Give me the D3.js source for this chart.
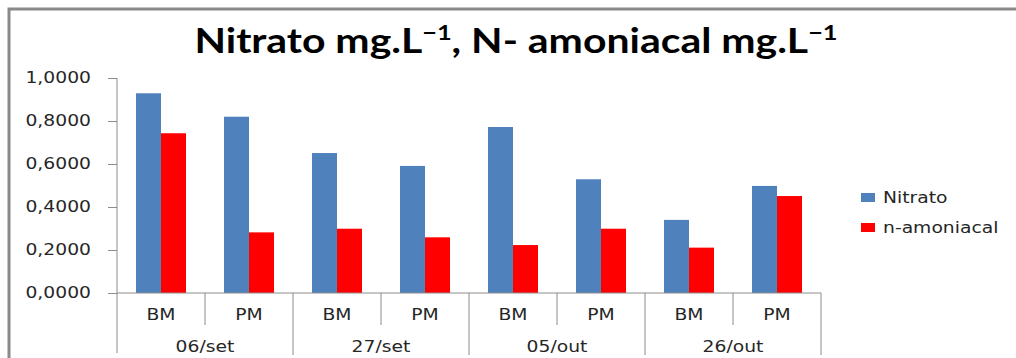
<!DOCTYPE html>
<html>
<head>
<meta charset="utf-8">
<title>Nitrato / N-amoniacal</title>
<style>
    body { margin: 0; padding: 0; background: white; }
    text { font-family: "DejaVu Sans", sans-serif; fill: #262626; }
    .title { font-family: Lato, "Open Sans", sans-serif; font-weight: bold; fill: #000; }
    .axis path, .axis line { stroke: #8c8c8c; }
</style>
</head>
<body>
<div id="chart"></div>
<script src="https://cdn.jsdelivr.net/npm/d3@7/dist/d3.min.js"></script>
<script>
    // data
    let dates = ["06/set", "27/set", "05/out", "26/out"]
    let periods = ["BM", "PM"]
    let series = ["Nitrato", "n-amoniacal"]
    let nitrato = [0.929, 0.820, 0.651, 0.591, 0.772, 0.529, 0.340, 0.498]
    let amoniacal = [0.743, 0.282, 0.299, 0.259, 0.223, 0.299, 0.211, 0.451]
    let yTicks = [0, 0.2, 0.4, 0.6, 0.8, 1.0]
    let colors = ["#4f81bd", "#ff0000"]

    let width = 1016, height = 358
    let sx = 1.25   // the reference text is stretched sideways

    let svg = d3.select("#chart").append("svg")
        .attr("width", width)
        .attr("height", height)

    // frame
    svg.append("rect")
        .attr("x", 9).attr("y", 9)
        .attr("width", 1100).attr("height", 400)
        .attr("fill", "none")
        .attr("stroke", "#8a8a8a")
        .attr("stroke-width", 3)

    // title
    let title = svg.append("text")
        .attr("class", "title")
        .attr("x", 516).attr("y", 53)
        .attr("text-anchor", "middle")
        .attr("font-size", 34)
        .attr("textLength", 643)
        .attr("lengthAdjust", "spacingAndGlyphs")
    title.append("tspan").text("Nitrato mg.L")
    title.append("tspan").attr("font-size", 21).attr("dy", -13).text("−1")
    title.append("tspan").attr("dy", 13).text(", N- amoniacal mg.L")
    title.append("tspan").attr("font-size", 21).attr("dy", -13).text("−1")

    let plotLeft = 117, plotRight = 821, plotTop = 78, plotBottom = 293

    // one slot per date/period pair
    let keys = []
    dates.forEach(function(d){
        periods.forEach(function(p){ keys.push(d + "|" + p) })
    })

    let x = d3.scaleBand().domain(keys).range([plotLeft, plotRight]).padding(0)
    let x1 = d3.scaleBand().domain(series).range([0, x.bandwidth()]).paddingInner(0).paddingOuter(0.76)
    let y = d3.scaleLinear().domain([0, 1]).range([plotBottom, plotTop])

    let locale = d3.formatLocale({decimal: ",", thousands: ".", grouping: [3], currency: ["", ""]})
    let fmt = locale.format(".4f")

    let yAxis = svg.append("g")
        .attr("class", "axis")
        .attr("transform", "translate(" + plotLeft + ",0)")
        .call(d3.axisLeft(y).tickValues(yTicks).tickFormat(fmt).tickSize(9).tickSizeOuter(0))
    yAxis.select(".domain").remove()
    yAxis.selectAll("text")
        .attr("x", 0)
        .attr("font-size", 15)
        .attr("fill", "#262626")
        .attr("transform", "translate(-26,0) scale(" + sx + ",1)")

    // bars
    let rows = keys.map(function(k, i){ return {key: k, values: [nitrato[i], amoniacal[i]]} })
    let groups = svg.selectAll(".slot")
        .data(rows)
        .enter()
        .append("g")
        .attr("transform", function(d){ return "translate(" + x(d.key) + ",0)" })
    groups.selectAll("rect")
        .data(function(d){ return d.values.map(function(v, j){ return {s: series[j], v: v, c: colors[j]} }) })
        .enter()
        .append("rect")
        .attr("x", function(d){ return x1(d.s) })
        .attr("y", function(d){ return y(d.v) })
        .attr("width", x1.bandwidth())
        .attr("height", function(d){ return plotBottom - y(d.v) })
        .attr("fill", function(d){ return d.c })

    // axis lines
    let axisColor = "#8c8c8c"
    svg.append("line")
        .attr("x1", plotLeft).attr("x2", plotLeft).attr("y1", plotTop).attr("y2", 353)
        .attr("stroke", axisColor)
    svg.append("line")
        .attr("x1", plotLeft).attr("x2", plotRight).attr("y1", plotBottom).attr("y2", plotBottom)
        .attr("stroke", axisColor)

    // separators below the axis
    keys.forEach(function(k, i){
        let xe = x(k) + x.bandwidth()
        let isGroupEnd = (i % periods.length) === periods.length - 1
        svg.append("line")
            .attr("x1", xe).attr("x2", xe)
            .attr("y1", plotBottom).attr("y2", isGroupEnd ? 355 : 325)
            .attr("stroke", axisColor)
    })

    // period labels
    svg.selectAll(".plabel")
        .data(keys)
        .enter()
        .append("text")
        .attr("text-anchor", "middle")
        .attr("font-size", 15)
        .attr("transform", function(d){
            return "translate(" + (x(d) + x.bandwidth() / 2) + ",320) scale(" + sx + ",1)"
        })
        .text(function(d){ return d.split("|")[1] })

    // date labels
    svg.selectAll(".dlabel")
        .data(dates)
        .enter()
        .append("text")
        .attr("text-anchor", "middle")
        .attr("font-size", 15)
        .attr("transform", function(d){
            let cx = x(d + "|" + periods[0]) + x.bandwidth() * periods.length / 2
            return "translate(" + cx + ",352) scale(" + sx + ",1)"
        })
        .text(function(d){ return d })

    // legend
    let legend = svg.selectAll(".legend")
        .data(series)
        .enter()
        .append("g")
        .attr("transform", function(d, i){ return "translate(861," + (193 + i * 30) + ")" })
    legend.append("rect")
        .attr("width", 14).attr("height", 9)
        .attr("fill", function(d, i){ return colors[i] })
    legend.append("text")
        .attr("font-size", 15)
        .attr("transform", "translate(22,10) scale(" + sx + ",1)")
        .text(function(d){ return d })
</script>
</body>
</html>
